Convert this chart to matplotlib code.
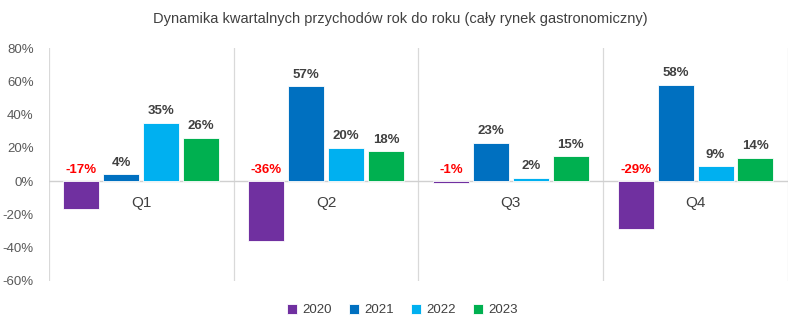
import matplotlib.pyplot as plt
import numpy as np

quarters = ["Q1", "Q2", "Q3", "Q4"]
years = ["2020", "2021", "2022", "2023"]
growth_2020 = [-17, -36, -1, -29]
growth_2021 = [4, 57, 23, 58]
growth_2022 = [35, 20, 2, 9]
growth_2023 = [26, 18, 15, 14]
y_ticks = [-60, -40, -20, 0, 20, 40, 60, 80]

colors = ["#7030A0", "#0070C0", "#00B0F0", "#00B050"]

plt.rcParams["font.family"] = ["Liberation Sans", "DejaVu Sans"]

fig = plt.figure(figsize=(8, 3.3), dpi=100)
ax = fig.add_axes([0.061, 0.1485, 0.924, 0.706])

series = [growth_2020, growth_2021, growth_2022, growth_2023]
x = np.arange(len(quarters))
step = 0.216
width = 0.195
offsets = (np.arange(len(series)) - 1.5) * step

for vals, year, color, off in zip(series, years, colors, offsets):
    bars = ax.bar(x + off, vals, width=width, color=color, edgecolor="white",
                  linewidth=0.6, label=year, zorder=3)
    for rect, v in zip(bars, vals):
        cx = rect.get_x() + rect.get_width() / 2
        top = max(v, 0)
        ax.annotate(f"{v}%", xy=(cx, top), xytext=(0, 4), textcoords="offset points",
                    ha="center", va="bottom", fontsize=9.5, fontweight="bold",
                    color="#FF0000" if v < 0 else "#404040", zorder=4)

for i, q in enumerate(quarters):
    ax.text(i, -13, q, ha="center", va="center", fontsize=11, color="#404040")

# group separators and zero line
for b in np.arange(-0.5, len(quarters) + 0.5, 1.0):
    ax.axvline(b, color="#d9d9d9", linewidth=0.9, zorder=1)
ax.axhline(0, color="#d0d0d0", linewidth=1.0, zorder=2)

ax.set_xlim(-0.5, len(quarters) - 0.5)
ax.set_ylim(-60, 80)
ax.set_yticks(y_ticks)
ax.set_yticklabels([f"{t}%" for t in y_ticks], fontsize=9.5, color="#595959")
ax.set_xticks([])
ax.tick_params(axis="y", length=0, pad=11)
for s in ax.spines.values():
    s.set_visible(False)

fig.suptitle("Dynamika kwartalnych przychodów rok do roku (cały rynek gastronomiczny)",
             x=0.5, y=0.965, fontsize=10.5, color="#404040")

fig.legend(loc="center", bbox_to_anchor=(0.503, 0.06), ncol=4, frameon=False,
           fontsize=9.5, handlelength=0.75, handleheight=0.75, handletextpad=0.4,
           columnspacing=1.3, labelcolor="#404040")

fig.savefig("out.png", dpi=100)
